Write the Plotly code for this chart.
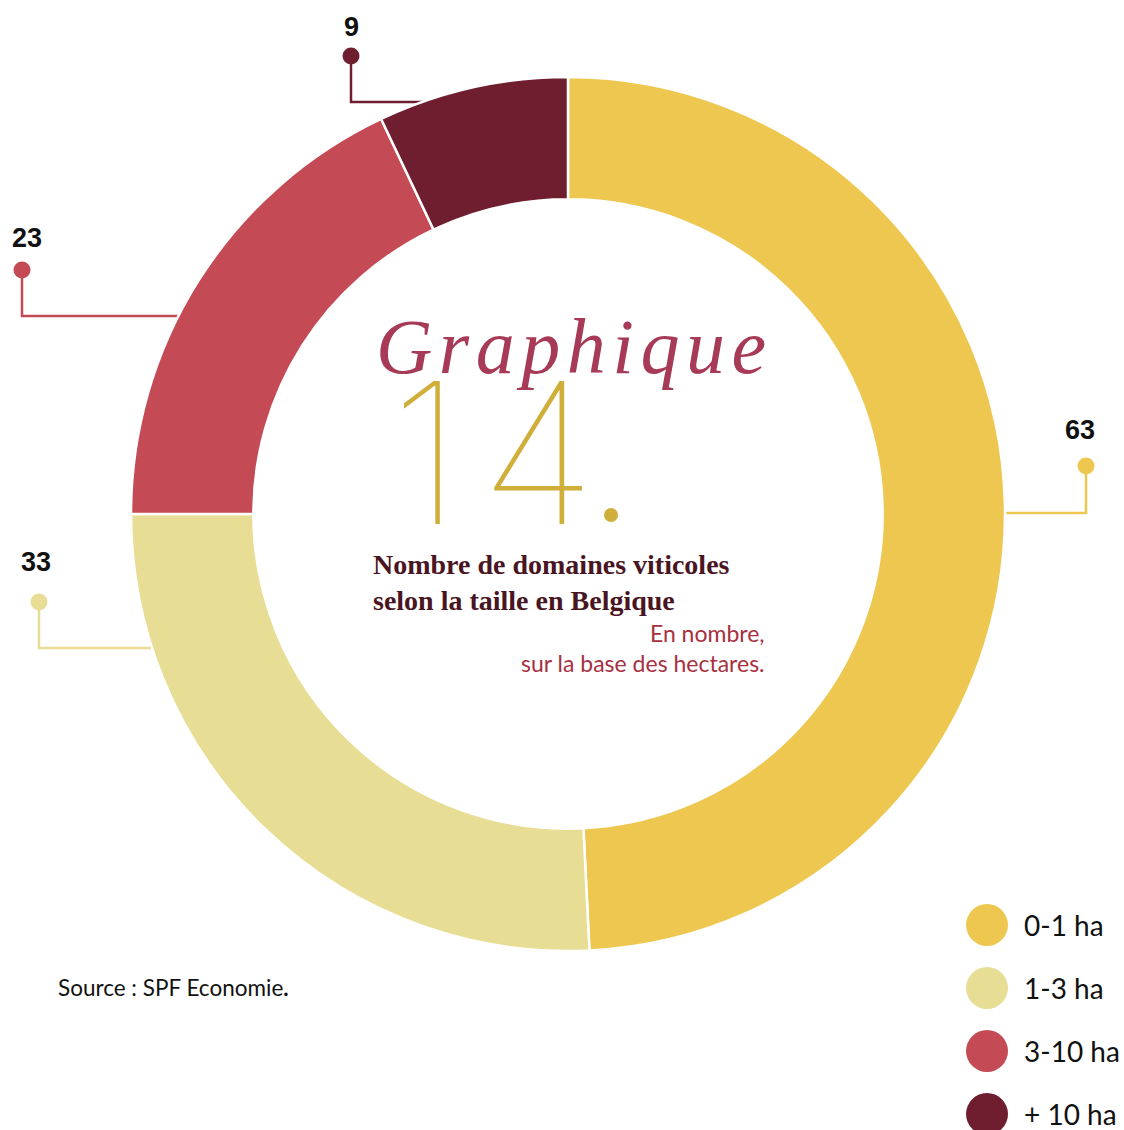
import plotly.graph_objects as go

W, H = 1124, 1130

categories = ["0-1 ha", "1-3 ha", "3-10 ha", "+ 10 ha"]
values = [63, 33, 23, 9]
colors = ["#EEC750", "#E8DD94", "#C44B55", "#6F1E30"]

def px(x):
    return x / W

def py(y):
    return 1 - y / H

# donut geometry (pixels)
cx, cy, R = 568, 514, 437

fig = go.Figure(go.Pie(
    labels=categories,
    values=values,
    marker=dict(colors=colors, line=dict(color="white", width=2.5)),
    hole=0.72,
    sort=False,
    direction="clockwise",
    rotation=0,
    textinfo="none",
    hoverinfo="label+value",
    showlegend=False,
    domain=dict(x=[px(cx - R), px(cx + R)], y=[py(cy + R), py(cy - R)]),
))

shapes = []
annotations = []

# leader lines: (dot x, dot y, elbow y, end x, label y)
leaders = [
    (1086, 466, 513, 990, 430),   # 63
    (39, 602, 648, 200, 562),     # 33
    (22, 270, 316, 190, 238),     # 23
    (351, 56, 102, 430, 27),      # 9
]
label_dx = [-6, -3, 5, 0]
for (dx, dy, ey, ex, ly), c, v, ldx in zip(leaders, colors, values, label_dx):
    shapes.append(dict(type="path", xref="paper", yref="paper", layer="below",
                       path=f"M {px(dx)},{py(dy)} L {px(dx)},{py(ey)} L {px(ex)},{py(ey)}",
                       line=dict(color=c, width=2.5)))
    r = 8.5
    shapes.append(dict(type="circle", xref="paper", yref="paper",
                       x0=px(dx - r), x1=px(dx + r), y0=py(dy + r), y1=py(dy - r),
                       fillcolor=c, line=dict(width=0)))
    annotations.append(dict(text=f"<b>{v}</b>", x=px(dx + ldx), y=py(ly), xref="paper", yref="paper",
                            xanchor="center", yanchor="middle", showarrow=False,
                            font=dict(family="Liberation Sans", size=27, color="#111111")))

# legend
leg_y = [925, 988, 1051, 1114]
for c, lab, y in zip(colors, categories, leg_y):
    r = 21
    shapes.append(dict(type="circle", xref="paper", yref="paper",
                       x0=px(987 - r), x1=px(987 + r), y0=py(y + r), y1=py(y - r),
                       fillcolor=c, line=dict(width=0)))
    annotations.append(dict(text=lab, x=px(1022), y=py(y), xref="paper", yref="paper",
                            xanchor="left", yanchor="middle", showarrow=False,
                            font=dict(family="Lato", size=28, color="#111111")))

# centre texts
hs = "\u200a"
annotations.append(dict(text=hs.join("Graphique"), x=px(374), y=py(346), xref="paper", yref="paper",
                        xanchor="left", yanchor="middle", showarrow=False,
                        font=dict(family="Liberation Serif", size=78, style="italic", color="#A63A57")))
annotations.append(dict(text="1\u200a4", x=px(388), y=py(452), xref="paper", yref="paper",
                        xanchor="left", yanchor="middle", showarrow=False,
                        font=dict(family="Inter", size=196, weight=100, color="#CFAE3A")))
dot_r = 7
shapes.append(dict(type="circle", xref="paper", yref="paper",
                   x0=px(611 - dot_r), x1=px(611 + dot_r), y0=py(515 + dot_r), y1=py(515 - dot_r),
                   fillcolor="#CFAE3A", line=dict(width=0)))
annotations.append(dict(text="<b>Nombre de domaines viticoles<br>selon la taille en Belgique</b>",
                        x=px(371), y=py(582), xref="paper", yref="paper",
                        xanchor="left", yanchor="middle", align="left", showarrow=False,
                        font=dict(family="Liberation Serif", size=28, color="#4A1522")))
annotations.append(dict(text="En nombre,<br>sur la base des hectares.",
                        x=px(767), y=py(648), xref="paper", yref="paper",
                        xanchor="right", yanchor="middle", align="right", showarrow=False,
                        font=dict(family="Lato", size=23, color="#A8303F")))
annotations.append(dict(text="Source : SPF Economie<b>.</b>", x=px(56), y=py(987), xref="paper", yref="paper",
                        xanchor="left", yanchor="middle", showarrow=False,
                        font=dict(family="Lato", size=22.5, color="#111111")))

fig.update_layout(
    width=W, height=H,
    margin=dict(l=0, r=0, t=0, b=0),
    paper_bgcolor="white",
    plot_bgcolor="white",
    shapes=shapes,
    annotations=annotations,
)

fig.write_html("out.html", config={"displayModeBar": False},
               post_script="document.body.style.margin='0';document.body.style.padding='0';")
